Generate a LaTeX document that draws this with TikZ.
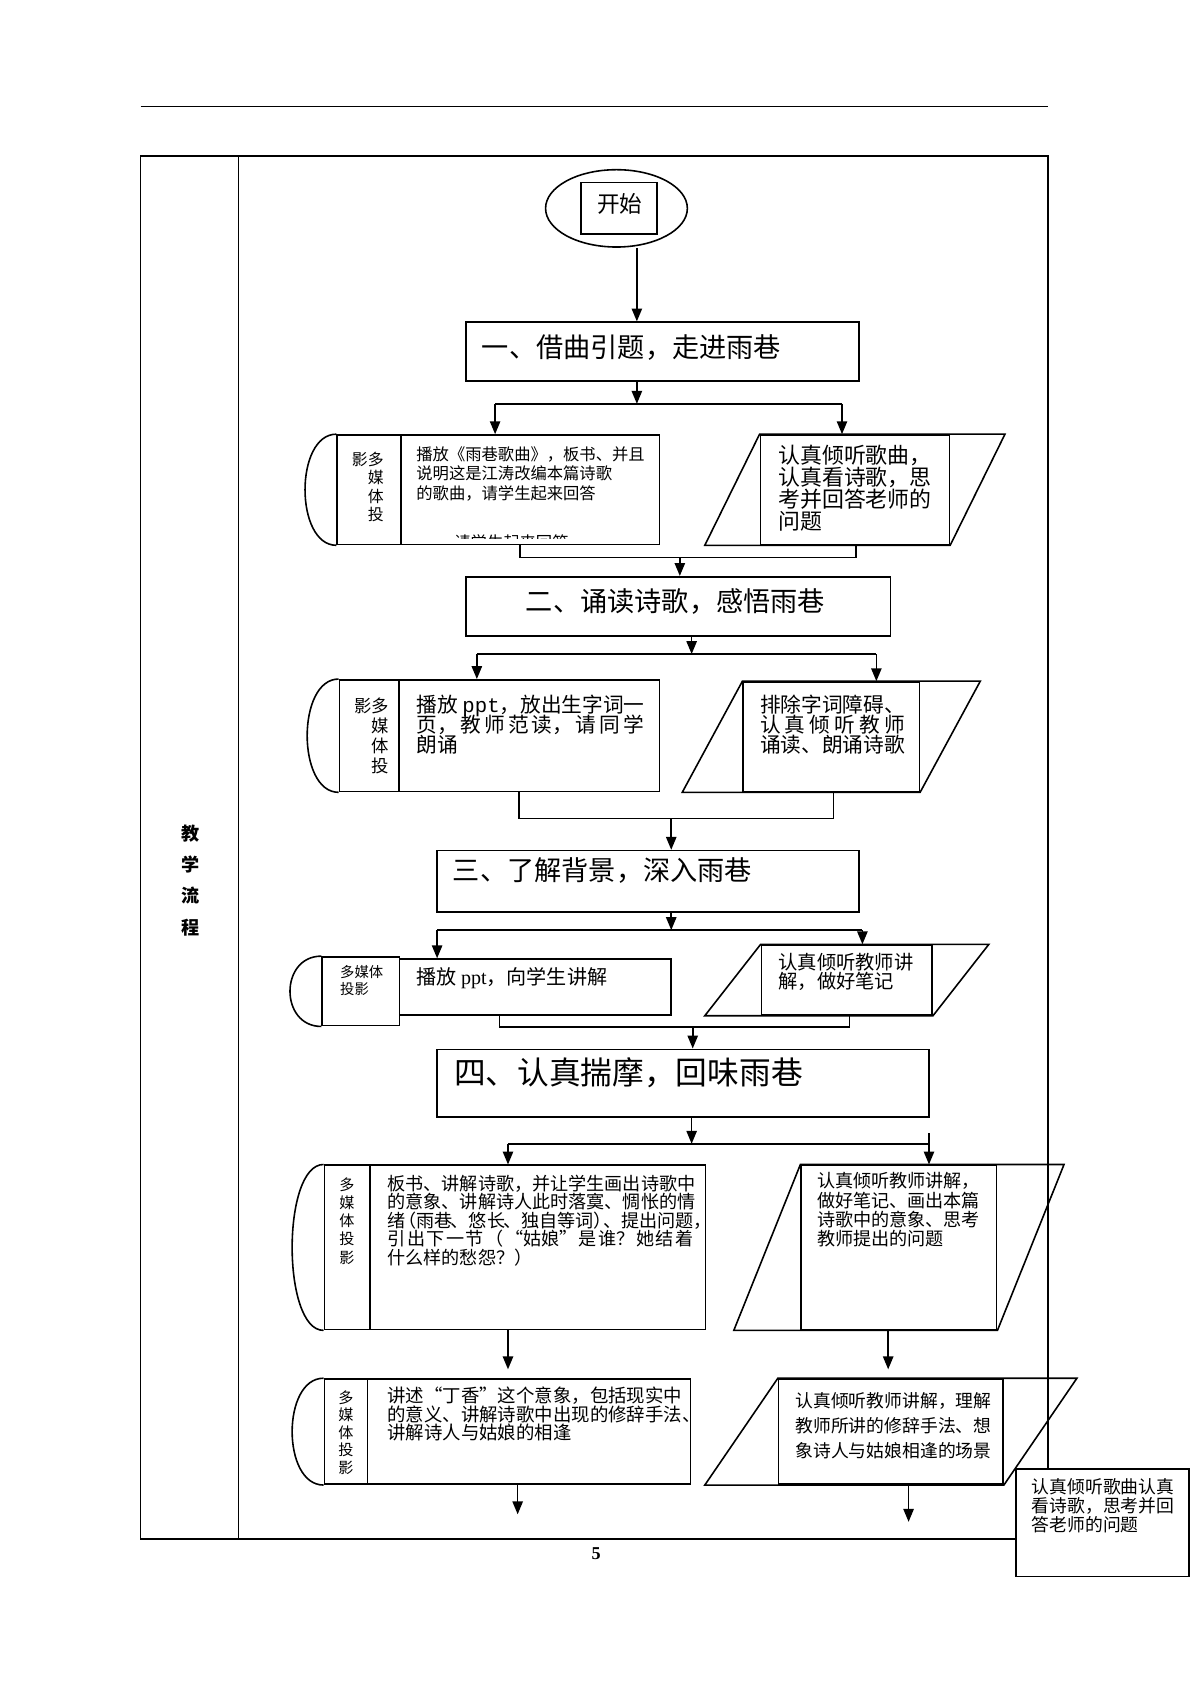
\documentclass[tikz,border=0pt]{standalone}
\usepackage{fontspec}
\setmainfont{Noto Sans CJK SC}
\newfontfamily\latinserif{Liberation Serif}
\newfontfamily\latinmono{Liberation Mono}
\usetikzlibrary{arrows.meta,positioning,fit,calc,shapes.geometric}
\newcommand{\slantbox}[2]{\draw (#1.north west) -- ($(#1.north east)+(#2,0)$) -- (#1.south east) -- ($(#1.south west)+(-#2,0)$) -- cycle;}
\newcommand{\roundcap}[1]{\draw (#1.north west) .. controls +(-39,0) and +(-39,0) .. (#1.south west);}

\begin{document}
\begin{tikzpicture}[x=0.25mm,y=0.25mm,line width=1.05pt,>={Triangle[length=3mm,width=2.4mm]},
  box/.style={draw,inner sep=0pt},
  txt/.style={anchor=north west,inner sep=0pt,align=left},
  fs/.style 2 args={font={\fontsize{#1}{#2}\selectfont\lineskiplimit=-20pt}}]
\useasboundingbox (0,0) rectangle (1109,-1568);
\draw[line width=0.9pt] (131,-99) -- (976,-99);
\draw (131,-145) rectangle (976,-1433);
\draw (222,-145) -- (222,-1433);
\node[anchor=north,inner sep=0pt,align=center,font=\fontsize{12}{20.8}\selectfont\bfseries] (flow) at (177,-767) {教\\学\\流\\程};

% start, step one
\node[draw,ellipse,minimum width=33mm,minimum height=18mm] (start) at (574,-194) {};
\node[box,fit={(541,-170) (612,-218)}] (begin) {};
\node[fs={15}{18}] (begintxt) at (577,-190) {开始};
\node[box,fit={(434,-300) (800,-355)}] (b1) {};
\node[txt,fs={18}{22}] (h1) at (448,-311) {一、借曲引题，走进雨巷};
\coordinate (s1) at (593,-376); \coordinate (s1l) at (461,-376); \coordinate (s1r) at (784,-376);
\draw[->] (start.south -| s1) -- (b1.north -| s1);
\draw[->] (b1.south -| s1) -- (s1); \draw (s1l) -- (s1r);

\node[box,fit={(314,-405) (614,-507)}] (l1) {};
\draw ([xshift=15mm]l1.north west) -- ([xshift=15mm]l1.south west); \roundcap{l1}
\node[anchor=north east,inner sep=0pt,align=right,fs={10.5}{12.3}] (l1m) at (358,-420) {影多\\媒\\体\\投};
\node[txt,fs={10.8}{12.9}] (l1t) at (387,-415) {播放《雨巷歌曲》，板书、并且\\说明这是江涛改编本篇诗歌\\的歌曲，请学生起来回答};
\begin{scope}
\clip (376,-496) rectangle (612,-501);
\node[txt,fs={10.8}{12.9}] (l1c) at (389,-497) {一\hspace{1.2em}请学生起来回答};
\end{scope}
\node[box,fit={(708,-405) (884,-507)}] (r1) {}; \slantbox{r1}{51}
\node[txt,fs={14.5}{14.4}] (r1t) at (724,-414) {认真倾听歌曲，\\认真看诗歌，思\\考并回答老师的\\问题};
\draw[->] (s1l) -- (l1.north -| s1l); \draw[->] (s1r) -- (r1.north -| s1r);

% step two
\node[box,fit={(434,-537) (829,-592)}] (b2) {};
\node[txt,fs={18}{22}] (h2) at (489,-547) {二、诵读诗歌，感悟雨巷};
\coordinate (m1) at (633,-519); \coordinate (m1l) at (484,-519); \coordinate (m1r) at (797,-519);
\draw (l1.south -| m1l) -- (m1l) -- (m1r) -- (r1.south -| m1r);
\draw[->] (m1) -- (b2.north -| m1);
\coordinate (s2) at (644,-609); \coordinate (s2l) at (444,-609); \coordinate (s2r) at (816,-609);

\node[box,fit={(316,-633) (614,-737)}] (l2) {};
\draw ([xshift=14mm]l2.north west) -- ([xshift=14mm]l2.south west); \roundcap{l2}
\node[anchor=north east,inner sep=0pt,align=right,fs={11.5}{13.3}] (l2m) at (363,-649) {影多\\媒\\体\\投};
\node[txt,fs={13.7}{13.5}] (l2t) at (387,-646) {播放 {\latinmono ppt}，放出生字词一\\\makebox[11em][s]{页，\hfil 教\hfil 师\hfil 范\hfil 读，\hfil 请\hfil 同\hfil 学}\\朗诵};
\node[box,fit={(692,-635) (856,-737)}] (r2) {}; \slantbox{r2}{56}
\node[txt,fs={13.7}{13.5}] (r2t) at (707,-646) {排除字词障碍、\\\makebox[7em][s]{认\hfil 真\hfil 倾\hfil 听\hfil 教\hfil 师}\\诵读、朗诵诗歌};
\draw[->] (b2.south -| s2) -- (s2); \draw (s2l) -- (s2r);
\draw[->] (s2l) -- (l2.north -| s2l); \draw[->] (s2r) -- (r2.north -| s2r);

% step three
\node[box,fit={(407,-792) (800,-849)}] (b3) {};
\node[txt,fs={18}{22}] (h3) at (421,-798) {三、了解背景，深入雨巷};
\coordinate (m2) at (625,-762); \coordinate (m2l) at (483,-762); \coordinate (m2r) at (776,-762);
\draw (l2.south -| m2l) -- (m2l) -- (m2r) -- (r2.south -| m2r);
\draw[->] (m2) -- (b3.north -| m2);
\coordinate (s3) at (625,-866); \coordinate (s3l) at (407,-866); \coordinate (s3r) at (803,-866);

\node[box,fit={(300,-891) (372,-955)}] (l3s) {}; \roundcap{l3s}
\node[box,fit={(372,-893) (625,-945)}] (l3) {};
\node[txt,fs={9.5}{11.4}] (l3m) at (316,-898) {多媒体\\投影};
\node[txt,anchor=west,fs={13.3}{16}] (l3t) at (387,-911) {播放 {\latinserif ppt}，向学生讲解};
\node[box,fit={(709,-880) (868,-945)}] (r3) {}; \slantbox{r3}{52}
\node[txt,fs={12.8}{12.6}] (r3t) at (724,-887) {认真倾听教师讲\\解，做好笔记};
\draw[->] (b3.south -| s3) -- (s3); \draw (s3l) -- (s3r);
\draw[->] (s3l) -- (l3.north -| s3l); \draw[->] (s3r) -- (r3.north -| s3r);

% step four
\node[box,fit={(407,-977) (865,-1040)}] (b4) {};
\node[txt,fs={21}{25}] (h4) at (422,-984) {四、认真揣摩，回味雨巷};
\coordinate (m3) at (645,-956); \coordinate (m3l) at (465,-956); \coordinate (m3r) at (791,-956);
\draw (l3.south -| m3l) -- (m3l) -- (m3r) -- (r3.south -| m3r);
\draw[->] (m3) -- (b4.north -| m3);
\coordinate (s4) at (644,-1065); \coordinate (s4l) at (473,-1065); \coordinate (s4r) at (865,-1065); \coordinate (s4t) at (865,-1055);

\node[box,fit={(302,-1085) (657,-1238)}] (l4) {};
\draw ([xshift=10.75mm]l4.north west) -- ([xshift=10.75mm]l4.south west); \roundcap{l4}
\node[anchor=north,inner sep=0pt,align=center,fs={10}{12}] (l4m) at (323,-1096) {多\\媒\\体\\投\\影};
\node[txt,fs={12}{12.3}] (l4t) at (360,-1093) {板书、讲解诗歌，并让学生画出诗歌中\\的意象、讲解诗人此时落寞、惆怅的情\\绪\kern-.4em（雨巷\kern-.1em、悠长\kern-.1em、独自等词）\kern-.5em、提出问题，\\\makebox[16.9em][s]{引\hfil 出\hfil 下\hfil 一\hfil 节\hfil（\hfil“姑娘”\hfil 是\hfil 谁？\hfil 她\hfil 结\hfil 着}\\什么样的愁怨？）};
\node[box,fit={(746,-1085) (928,-1238)}] (r4) {}; \slantbox{r4}{62}
\node[txt,fs={12}{12.8}] (r4t) at (760,-1091) {认真倾听教师讲解，\\做好笔记、画出本篇\\诗歌中的意象、思考\\教师提出的问题};
\coordinate (e4l) at (473,-1275); \coordinate (e4r) at (827,-1275);
\draw[->] (b4.south -| s4) -- (s4); \draw (s4l) -- (s4r);
\draw[->] (s4l) -- (l4.north -| s4l); \draw[->] (s4t) -- (r4.north -| s4t);
\draw[->] (l4.south -| e4l) -- (e4l); \draw[->] (r4.south -| e4r) -- (e4r);

\node[box,fit={(302,-1284) (643,-1382)}] (l5) {};
\draw ([xshift=10.25mm]l5.north west) -- ([xshift=10.25mm]l5.south west); \roundcap{l5}
\node[anchor=north,inner sep=0pt,align=center,fs={10}{11.6}] (l5m) at (322,-1294) {多\\媒\\体\\投\\影};
\node[txt,fs={12.2}{12.1}] (l5t) at (360,-1291) {讲述“丁香”这个意象，包括现实中\\的意义、讲解诗歌中出现的修辞手法、\\讲解诗人与姑娘的相逢};
\node[box,fit={(725,-1284) (934,-1382)}] (r5) {}; \slantbox{r5}{68}
\node[txt,fs={11.8}{16.4}] (r5t) at (740,-1296) {认真倾听教师讲解，理解\\教师所讲的修辞手法、想\\象诗人与姑娘相逢的场景};
\coordinate (e5l) at (482,-1410); \coordinate (e5r) at (846,-1417);
\draw[->] (l5.south -| e5l) -- (e5l); \draw[->] (r5.south -| e5r) -- (e5r);

\node[font=\fontsize{12}{14}\selectfont\latinserif\bfseries] (pg) at (555,-1447) {5};
\node[box,fill=white,fit={(946,-1368) (1107,-1468)}] (note) {};
\node[txt,fs={11.8}{12.4}] (notet) at (960,-1376) {认真倾听歌曲认真\\看诗歌，思考并回\\答老师的问题};
\end{tikzpicture}
\end{document}
